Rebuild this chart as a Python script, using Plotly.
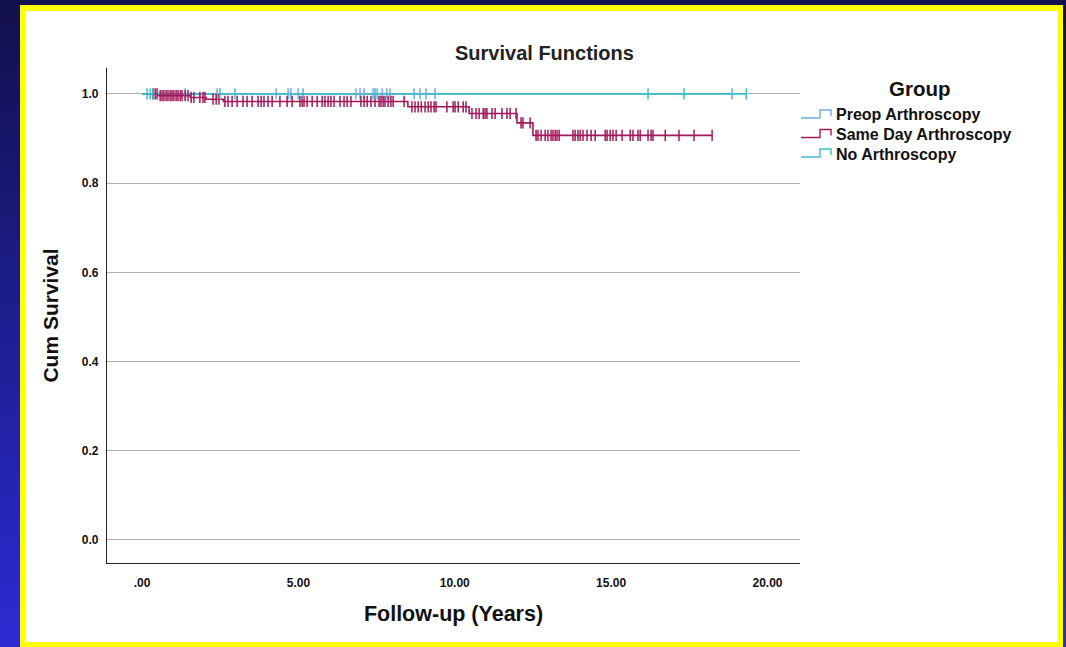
import bisect
import plotly.graph_objects as go

# ---------------- data ----------------
groups = ["Preop Arthroscopy", "Same Day Arthroscopy", "No Arthroscopy"]

# Same Day Arthroscopy: event times (years) and survival level after each event
sameday_event_times = [0.52, 1.55, 2.05, 2.60, 8.50, 10.46, 11.99, 12.50]
sameday_surv = [0.996, 0.992, 0.988, 0.983, 0.971, 0.956, 0.935, 0.907]
sameday_censor = [0.35, 0.42, 0.48, 0.58, 0.64, 0.70, 0.77, 0.83, 0.90, 0.96, 1.02, 1.09,
                  1.15, 1.22, 1.28, 1.38, 1.47, 1.57, 1.66, 1.85, 1.95, 2.01, 2.27, 2.37,
                  2.46, 2.65, 2.75, 2.88, 3.04, 3.23, 3.36, 3.52, 3.71, 3.81, 3.90, 4.03,
                  4.16, 4.41, 4.64, 4.80, 5.05, 5.12, 5.18, 5.28, 5.44, 5.60, 5.76, 5.85,
                  5.95, 6.04, 6.14, 6.33, 6.46, 6.56, 6.68, 7.00, 7.10, 7.20, 7.32, 7.45,
                  7.58, 7.64, 7.71, 7.77, 7.87, 7.96, 8.03, 8.38,
                  8.63, 8.73, 8.83, 8.93, 9.05, 9.15, 9.24, 9.34, 9.40, 9.75, 9.95, 10.01,
                  10.11, 10.27, 10.36,
                  10.55, 10.68, 10.78, 10.91, 10.97, 11.03, 11.19, 11.29, 11.51, 11.67,
                  11.77, 11.96,
                  12.12, 12.18, 12.41,
                  12.60, 12.66, 12.76, 12.89, 12.98, 13.08, 13.14, 13.21, 13.27, 13.34,
                  13.78, 13.85, 13.94, 14.01, 14.10, 14.23, 14.36, 14.49, 14.81, 14.87,
                  14.97, 15.06, 15.16, 15.35, 15.61, 15.70, 15.86, 15.93, 16.18, 16.28,
                  16.34, 16.73, 17.17, 17.65, 18.23]

# Preop Arthroscopy: no events
preop_event_times = []
preop_surv = []
preop_censor = [1.38, 2.40, 4.29, 4.67, 4.76, 4.99, 6.84, 6.97, 7.10, 7.39, 7.52, 7.68,
                7.83, 7.93, 8.70, 8.89, 9.08, 9.37, 18.87]

# No Arthroscopy: no events
noarth_event_times = []
noarth_surv = []
noarth_censor = [0.16, 0.26, 0.35, 2.49, 2.97, 5.15, 7.45, 16.18, 17.33, 19.32]

x_tickvals = [0, 5, 10, 15, 20]
x_ticktext = [".00", "5.00", "10.00", "15.00", "20.00"]
y_tickvals = [0.0, 0.2, 0.4, 0.6, 0.8, 1.0]
y_ticktext = ["0.0", "0.2", "0.4", "0.6", "0.8", "1.0"]

colors = {"Preop Arthroscopy": "#6aaee0",
          "Same Day Arthroscopy": "#a3195b",
          "No Arthroscopy": "#3ebdc6"}

series = {
    "Preop Arthroscopy": (preop_event_times, preop_surv, preop_censor),
    "Same Day Arthroscopy": (sameday_event_times, sameday_surv, sameday_censor),
    "No Arthroscopy": (noarth_event_times, noarth_surv, noarth_censor),
}

FONT = "Arial, 'Liberation Sans', sans-serif"

# ---------------- figure ----------------
W, H = 1066, 647
ML, MR, MT, MB = 107, 266, 68, 84
PW, PH = W - ML - MR, H - MT - MB


def px_x(px):
    return (px - ML) / PW


def px_y(py):
    return (H - MB - py) / PH


fig = go.Figure()

for name in groups:
    ev, sv, cens = series[name]
    last = max(cens + ev)
    xs = [0] + list(ev) + [last]
    ys = [1.0] + list(sv) + [(sv[-1] if sv else 1.0)]
    fig.add_trace(go.Scatter(x=xs, y=ys, mode="lines", line_shape="hv",
                             line=dict(color=colors[name], width=1.6),
                             name=name, showlegend=False))


def level_at(ev, sv, t):
    i = bisect.bisect_right(ev, t)
    return 1.0 if i == 0 else sv[i - 1]


for name in groups:
    ev, sv, cens = series[name]
    fig.add_trace(go.Scatter(x=cens, y=[level_at(ev, sv, t) for t in cens],
                             mode="markers",
                             marker=dict(symbol="line-ns", size=8,
                                         line=dict(color=colors[name], width=1.5)),
                             showlegend=False, hoverinfo="skip"))

# background: gradient bands (dark top -> blue bottom), yellow frame, white page
shapes = []
n = 30
c0, c1 = (18, 17, 78), (42, 44, 210)
for i in range(n):
    f = i / (n - 1)
    col = "rgb(%d,%d,%d)" % tuple(int(c0[k] + (c1[k] - c0[k]) * f) for k in range(3))
    top = H * i / n
    bot = H * (i + 1) / n
    shapes.append(dict(type="rect", xref="paper", yref="paper", layer="below",
                       x0=px_x(-2), x1=px_x(W + 2), y0=px_y(bot + 1), y1=px_y(top),
                       fillcolor=col, line=dict(width=0)))
shapes.append(dict(type="rect", xref="paper", yref="paper", layer="below",
                   x0=px_x(20), x1=px_x(1063), y0=px_y(H + 2), y1=px_y(5),
                   fillcolor="#ffff00", line=dict(width=0)))
shapes.append(dict(type="rect", xref="paper", yref="paper", layer="below",
                   x0=px_x(25.5), x1=px_x(1057.5), y0=px_y(642), y1=px_y(11),
                   fillcolor="#ffffff", line=dict(width=0)))

# legend: step icons + labels
annotations = [
    dict(text="<b>Survival Functions</b>", xref="paper", yref="paper",
         x=px_x(544), y=px_y(53), showarrow=False, xanchor="center", yanchor="middle",
         font=dict(size=20, family=FONT, color="#222222")),
    dict(text="<b>Group</b>", xref="paper", yref="paper",
         x=px_x(920), y=px_y(88), showarrow=False, xanchor="center", yanchor="middle",
         font=dict(size=20.5, family=FONT, color="#111111")),
]
leg_y = [115, 134.5, 154]
for name, yy in zip(groups, leg_y):
    pts = [(801, yy + 3), (820, yy + 3), (820, yy - 5), (831, yy - 5), (831, yy + 1)]
    path = "M " + " L ".join("%f,%f" % (px_x(a), px_y(b)) for a, b in pts)
    shapes.append(dict(type="path", xref="paper", yref="paper", path=path,
                       line=dict(color=colors[name], width=1.4)))
    annotations.append(dict(text="<b>%s</b>" % name, xref="paper", yref="paper",
                            x=px_x(834), y=px_y(yy), showarrow=False,
                            xanchor="left", yanchor="middle",
                            font=dict(size=16, family=FONT, color="#111111")))

fig.update_layout(
    width=W, height=H,
    margin=dict(l=ML, r=MR, t=MT, b=MB, pad=0),
    paper_bgcolor="#12114e",
    plot_bgcolor="rgba(0,0,0,0)",
    shapes=shapes,
    annotations=annotations,
    font=dict(family=FONT, color="#111111"),
    showlegend=False,
)

fig.update_xaxes(range=[-1.12, 21.04], tickvals=x_tickvals, ticktext=x_ticktext,
                 showgrid=False, zeroline=False, showline=True, linecolor="#222222",
                 linewidth=1.2, ticks="", ticklen=0, ticklabelstandoff=8,
                 tickfont=dict(size=12, family=FONT, color="#111111", weight="bold"),
                 title=dict(text="<b>Follow-up (Years)</b>", standoff=17,
                            font=dict(size=21.5, family=FONT, color="#111111")))
fig.update_yaxes(range=[-0.0516, 1.058], tickvals=y_tickvals, ticktext=y_ticktext,
                 showgrid=True, gridcolor="#b0b0b0", gridwidth=1, zeroline=False,
                 showline=True, linecolor="#222222", linewidth=1.2, ticks="",
                 ticklabelstandoff=5,
                 tickfont=dict(size=12, family=FONT, color="#111111", weight="bold"),
                 title=dict(text="<b>Cum Survival</b>", standoff=17,
                            font=dict(size=21, family=FONT, color="#111111")))

fig.write_html("out.html", config={"displayModeBar": False},
               post_script="document.body.style.margin='0';document.body.style.overflow='hidden';")
